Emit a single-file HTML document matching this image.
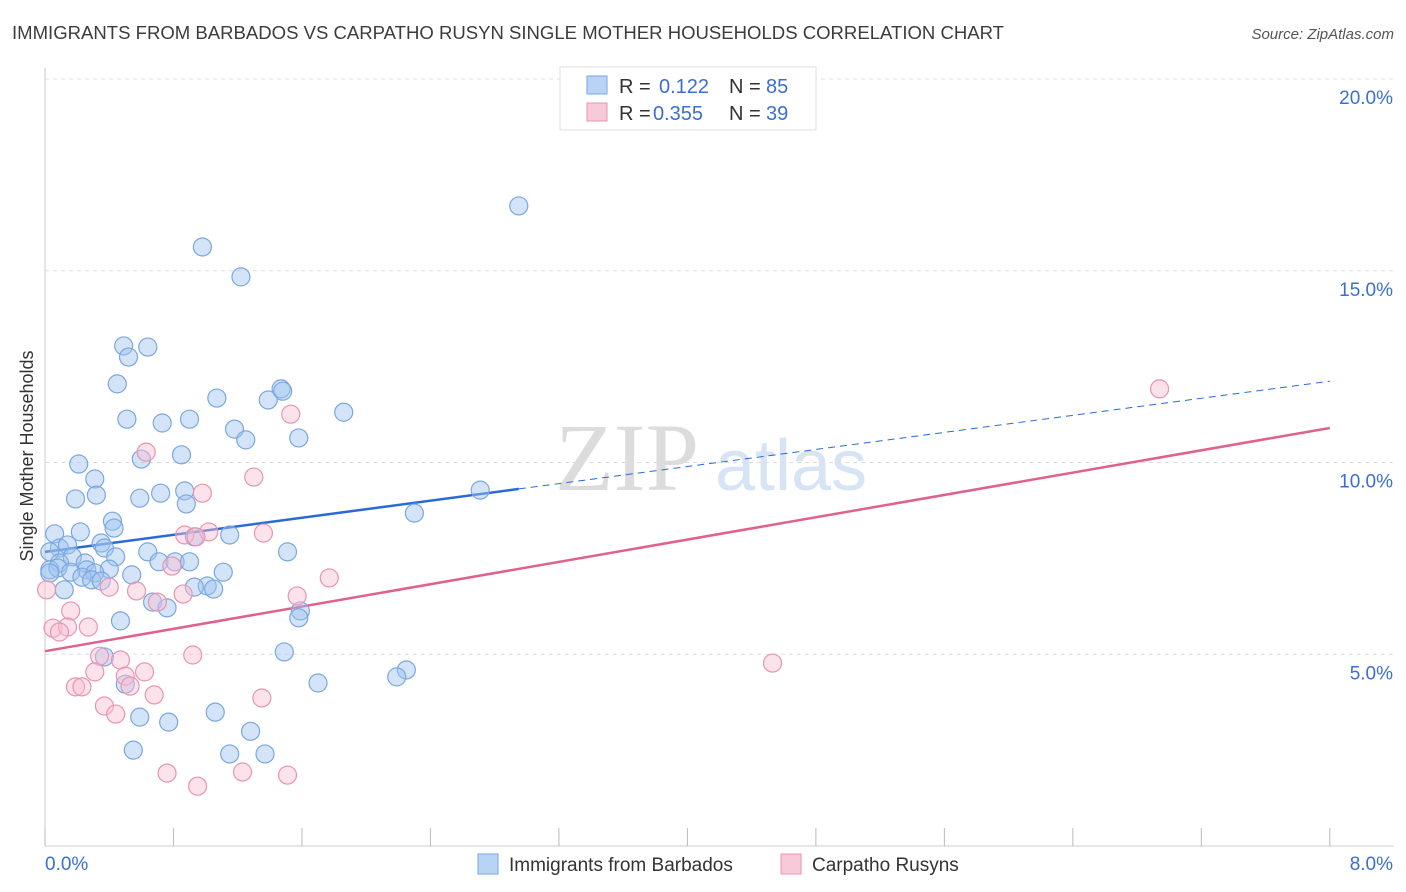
<!DOCTYPE html>
<html><head><meta charset="utf-8"><style>
body{margin:0;background:#fff;font-family:"Liberation Sans",sans-serif;}
svg{display:block}
</style></head><body>
<svg id="chart" width="1406" height="892" xmlns="http://www.w3.org/2000/svg" font-family="Liberation Sans, sans-serif">
<text x="12" y="39" font-size="18" fill="#3c3c3c" textLength="992" lengthAdjust="spacingAndGlyphs">IMMIGRANTS FROM BARBADOS VS CARPATHO RUSYN SINGLE MOTHER HOUSEHOLDS CORRELATION CHART</text>
<text x="1394" y="39" font-size="15" fill="#555" text-anchor="end" font-style="italic">Source: ZipAtlas.com</text>
<g><text x="555" y="490" font-size="96" fill="#dcdcdc" font-family="Liberation Serif, serif">ZIP</text><text x="715" y="490" font-size="72" fill="#d6e4f5">atlas</text></g>
<g id="grid"></g>
<g id="axes"></g>
<g id="lines"></g>
<g id="pts"></g>
<text transform="translate(33,456) rotate(-90)" font-size="18" fill="#333" text-anchor="middle">Single Mother Households</text>
<g>
<rect x="560" y="67" width="256" height="63" fill="#fff" stroke="#ddd"/>
<rect x="587" y="76" width="20" height="18" fill="#b8d3f3" stroke="#7aa7e0"/>
<rect x="587" y="103" width="20" height="18" fill="#f8c9d8" stroke="#e894b0"/>
<text x="619" y="93" font-size="20" fill="#333">R =</text>
<text x="659" y="93" font-size="20" fill="#3a6fd0">0.122</text>
<text x="729" y="93" font-size="20" fill="#333">N =</text>
<text x="766" y="93" font-size="20" fill="#3a6fd0">85</text>
<text x="619" y="120" font-size="20" fill="#333">R =</text>
<text x="653" y="120" font-size="20" fill="#3a6fd0">0.355</text>
<text x="729" y="120" font-size="20" fill="#333">N =</text>
<text x="766" y="120" font-size="20" fill="#3a6fd0">39</text>
</g>
<g>
<rect x="478" y="854" width="20" height="20" fill="#b8d3f3" stroke="#7aa7e0"/>
<text x="509" y="871" font-size="19" fill="#333">Immigrants from Barbados</text>
<rect x="781" y="854" width="20" height="20" fill="#f8c9d8" stroke="#e894b0"/>
<text x="812" y="871" font-size="19" fill="#333">Carpatho Rusyns</text>
</g>
</svg>
<script>
const blueX=[2.95,0.98,1.22,0.49,0.64,0.52,0.45,1.47,1.48,1.39,1.07,1.86,0.51,0.73,0.90,1.18,1.25,1.58,0.60,0.85,0.21,0.31,0.32,0.19,0.59,0.72,0.87,0.88,2.71,2.30,0.42,0.43,0.22,0.06,1.15,0.93,0.35,0.37,0.09,0.03,0.14,0.64,1.51,0.17,0.44,0.71,0.81,0.90,0.25,0.09,0.03,0.40,0.08,1.11,0.54,0.26,0.16,0.31,0.23,0.29,0.35,1.01,0.93,1.05,0.12,0.67,0.76,1.59,1.58,0.47,0.37,1.49,2.25,2.19,1.70,0.50,0.59,0.77,1.06,1.28,0.55,1.15,1.37,0.03];
const blueY=[16.69,15.62,14.84,13.04,13.01,12.75,12.05,11.92,11.86,11.63,11.68,11.31,11.13,11.03,11.13,10.87,10.59,10.64,10.09,10.20,9.96,9.57,9.15,9.05,9.07,9.20,9.26,8.92,9.28,8.68,8.47,8.29,8.19,8.14,8.11,8.06,7.90,7.77,7.77,7.67,7.85,7.67,7.67,7.54,7.54,7.41,7.41,7.41,7.38,7.38,7.20,7.22,7.25,7.14,7.07,7.20,7.14,7.12,7.01,6.94,6.91,6.78,6.75,6.70,6.68,6.36,6.21,6.13,5.95,5.87,4.93,5.06,4.59,4.41,4.25,4.22,3.36,3.23,3.49,2.99,2.50,2.40,2.40,7.12];
const pinkX=[6.94,1.53,0.63,1.30,0.98,0.87,1.02,1.36,0.94,1.77,0.79,0.40,0.57,1.57,0.86,0.70,0.16,0.05,0.14,0.27,0.09,0.34,0.47,0.92,4.53,0.31,0.62,0.50,0.53,0.19,0.23,0.68,1.35,0.37,0.44,0.76,1.23,1.51,0.95,0.01];
const pinkY=[11.92,11.26,10.27,9.62,9.20,8.11,8.19,8.16,8.06,6.99,7.30,6.75,6.65,6.52,6.57,6.36,6.13,5.68,5.71,5.71,5.58,4.95,4.85,4.98,4.77,4.54,4.54,4.43,4.17,4.15,4.15,3.94,3.86,3.65,3.44,1.90,1.93,1.85,1.56,6.68];
const yTicks=[5,10,15,20];
const xTickVals=[0,0.8,1.6,2.4,3.2,4,4.8,5.6,6.4,7.2,8];
const blueTrend=[7.67,12.12];
const blueSolidEnd=2.95;
const pinkTrend=[5.08,10.90];
const NS="http://www.w3.org/2000/svg";
const sx=v=>45+v*160.6, sy=v=>846-v*38.35;
function mk(tag,attrs,parent){const e=document.createElementNS(NS,tag);for(const k in attrs)e.setAttribute(k,attrs[k]);document.getElementById(parent).appendChild(e);return e;}
yTicks.forEach(t=>{
 const g=mk('line',{x1:45,x2:1394,y1:sy(t),y2:sy(t),stroke:'#ddd','stroke-dasharray':'4,4'},'grid');
 
 
 const l=mk('text',{x:1393,y:sy(t)+25,'font-size':19,fill:'#3a6fd0','text-anchor':'end'},'axes');
 l.textContent=t.toFixed(1)+'%';
 
 
});
const ax=mk('line',{x1:45,x2:1394,y1:846,y2:846,stroke:'#ccc'},'axes');


const ay=mk('line',{x1:45,x2:45,y1:68,y2:846,stroke:'#ccc'},'axes');


xTickVals.forEach(t=>{
 const e=mk('line',{x1:sx(t),x2:sx(t),y1:828,y2:846,stroke:'#bbb'},'axes');
 
 
});
const xl0=mk('text',{x:45,y:870,'font-size':19,fill:'#3a6fd0'},'axes');xl0.textContent='0.0%';


const xl1=mk('text',{x:1393,y:870,'font-size':19,fill:'#3a6fd0','text-anchor':'end'},'axes');xl1.textContent='8.0%';


blueX.forEach((x,i)=>{
 const c=mk('circle',{cx:sx(x),cy:sy(blueY[i]),r:9,fill:'rgba(160,196,240,0.45)',stroke:'#7aa7e0','stroke-width':1.2},'pts');
 
 
});
pinkX.forEach((x,i)=>{
 const c=mk('circle',{cx:sx(x),cy:sy(pinkY[i]),r:9,fill:'rgba(248,190,210,0.45)',stroke:'#e894b0','stroke-width':1.2},'pts');
 
 
});
const bAt=x=>blueTrend[0]+(blueTrend[1]-blueTrend[0])*x/8;
const b1=mk('line',{x1:sx(0),y1:sy(bAt(0)),x2:sx(blueSolidEnd),y2:sy(bAt(blueSolidEnd)),stroke:'#2a6ad6','stroke-width':2.5},'lines');


const b2=mk('line',{x1:sx(blueSolidEnd),y1:sy(bAt(blueSolidEnd)),x2:sx(8),y2:sy(bAt(8)),stroke:'#2a6ad6','stroke-width':1,'stroke-dasharray':'7,5'},'lines');


const p1=mk('line',{x1:sx(0),y1:sy(pinkTrend[0]),x2:sx(8),y2:sy(pinkTrend[1]),stroke:'#e0608e','stroke-width':2.5},'lines');


</script>
</body></html>
